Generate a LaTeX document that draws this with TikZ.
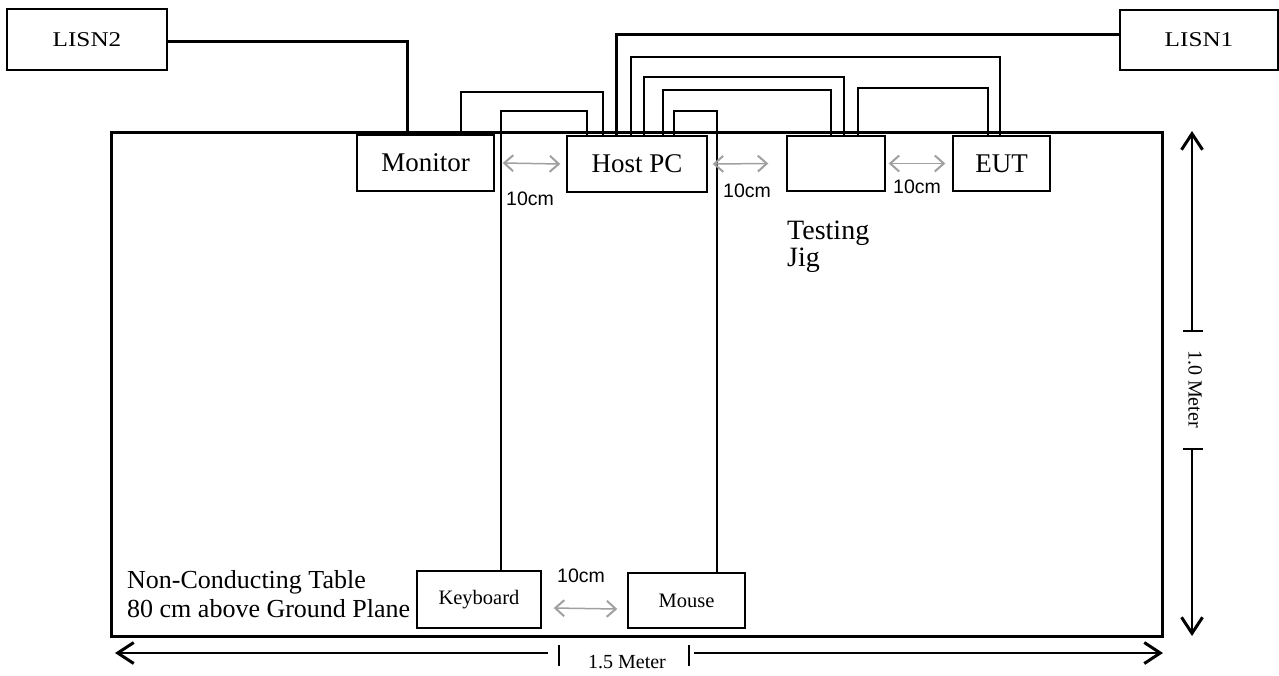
\documentclass[tikz,border=0pt]{standalone}
\usepackage{fontspec}
\usepackage{graphicx}
\setmainfont{Liberation Serif}
\newfontfamily\arialfont{Liberation Sans}
\usetikzlibrary{arrows.meta,calc}
\definecolor{gapgrey}{RGB}{160,160,160}

\begin{document}
\begin{tikzpicture}[x=1pt,y=-1pt,
  box/.style={draw,line width=1.4pt,inner sep=0pt,font=\fontsize{27}{30}\selectfont},
  smallbox/.style={box,font=\fontsize{20.5}{24}\selectfont},
  cable/.style={line width=1.4pt},
  power/.style={line width=3pt},
  gap/.style={gapgrey,line width=1.5pt,{Straight Barb[length=9pt,width=16pt,line width=2pt]}-{Straight Barb[length=9pt,width=16pt,line width=2pt]}},
  gaptext/.style={font=\arialfont\fontsize{19.5}{22}\selectfont,inner sep=0pt,anchor=base west},
  dimline/.style={line width=1.2pt},
  dimarrow/.style={dimline,-{Straight Barb[length=16pt,width=21pt,line width=3pt]}},
  dimtext/.style={font=\fontsize{20}{24}\selectfont,inner sep=0pt}]

\useasboundingbox (0,0) rectangle (1279,675);

% table
\node[draw,line width=3pt,minimum width=1051pt,minimum height=504pt] (table) at (637,384) {};

% equipment on the table
\node[box,minimum width=137pt,minimum height=56pt] (monitor) at (425.5,163) {Monitor};
\node[box,minimum width=140pt,minimum height=56pt] (host) at (637,164) {Host PC};
\node[box,minimum width=98pt,minimum height=55pt] (jig) at (836,163.5) {};
\node[box,minimum width=97pt,minimum height=55pt] (eut) at (1001.5,163.5) {EUT};
\node[smallbox,minimum width=124pt,minimum height=57pt] (kbd) at (479,599.5) {Keyboard};
\node[smallbox,minimum width=117pt,minimum height=55pt] (mouse) at (686.5,600.5) {Mouse};

% LISNs
\node[box,font=\fontsize{21}{24}\selectfont,minimum width=160pt,minimum height=61pt] (lisn2) at (87,39.5) {\scalebox{1.2}[1]{LISN2}};
\node[box,font=\fontsize{21}{24}\selectfont,minimum width=158pt,minimum height=60pt] (lisn1) at (1199,40) {\scalebox{1.2}[1]{LISN1}};

% texts
\node[font=\fontsize{26}{29}\selectfont,align=left,anchor=north west,inner sep=0pt] (tabletext) at (127,570)
  {Non-Conducting Table\\80 cm above Ground Plane};
\begin{scope}
  \clip (780,200) rectangle (900,273);
  \node[font=\fontsize{28}{27}\selectfont,align=left,anchor=north west,inner sep=0pt] (jigtext) at (787,221)
    {Testing\\Jig};
\end{scope}

% power cords
\draw[power] ([yshift=-2pt]lisn2.east) -| (407,0 |- monitor.north);
\draw[power] ([yshift=6pt]lisn1.west) -| (616,0 |- host.north);

% signal cables
\draw[cable] (461,0 |- monitor.north) |- (603,92) -- (603,0 |- host.north);
\draw[cable] (501,0 |- kbd.north) |- (587,111) -- (587,0 |- host.north);
\draw[cable] (717,0 |- mouse.north) |- (674,111) -- (674,0 |- host.north);
\draw[cable] (663,0 |- host.north) |- (831,90) -- (831,0 |- jig.north);
\draw[cable] (644,0 |- host.north) |- (844,77) -- (844,0 |- jig.north);
\draw[cable] (631,0 |- host.north) |- (1000,57) -- (1000,0 |- eut.north);
\draw[cable] (858,0 |- jig.north) |- (988,88) -- (988,0 |- eut.north);

% 10cm spacings
\draw[gap] ([xshift=8pt]monitor.east) -- ([xshift=-6pt]host.west);
\draw[gap] ([xshift=5pt]host.east) -- ([xshift=-18pt]jig.west);
\draw[gap] ([xshift=3pt]jig.east) -- ([xshift=-7pt]eut.west);
\draw[gap] ([xshift=12pt,yshift=-8.5pt]kbd.east) -- ([xshift=-10pt,yshift=-8.5pt]mouse.west);
\node[gaptext] (gap1) at (506,205) {10cm};
\node[gaptext] (gap2) at (723,197) {10cm};
\node[gaptext] (gap3) at (893,193) {10cm};
\node[gaptext] (gap4) at (557,582) {10cm};

% dimensions
\node[dimtext] (width) at (627,662) {1.5 Meter};
\coordinate (wl) at (559,655);
\coordinate (wr) at (689,655);
\draw[dimline] ([yshift=10pt]wl) -- ([yshift=-11pt]wl);
\draw[dimline] ([yshift=10pt]wr) -- ([yshift=-11pt]wr);
\draw[dimarrow] ([xshift=-11pt,yshift=2pt]wl) -- (115,653);
\draw[dimarrow] ([xshift=5pt,yshift=2pt]wr) -- (1163,653);

\node[dimtext,rotate=-90] (depth) at (1195,389) {1.0 Meter};
\coordinate (dt) at (1192,331);
\coordinate (db) at (1192,449);
\draw[dimline] ([xshift=-9pt]dt) -- ([xshift=11pt]dt);
\draw[dimline] ([xshift=-9pt]db) -- ([xshift=11pt]db);
\draw[dimarrow] (dt) -- (1192,131);
\draw[dimarrow] (db) -- (1192,636);

\end{tikzpicture}
\end{document}
